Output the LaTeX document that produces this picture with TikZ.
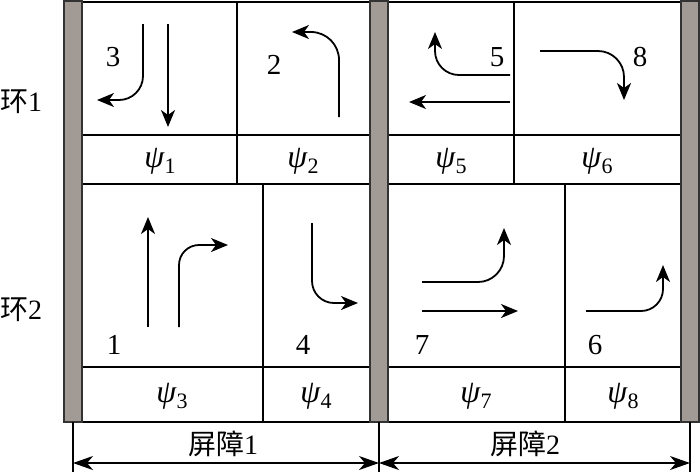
\documentclass[tikz,border=0pt]{standalone}
\usepackage{fontspec}
\setmainfont{Liberation Serif}
\newfontfamily\zhfont{Noto Sans CJK SC}
\usetikzlibrary{arrows.meta,positioning,calc}
\definecolor{barc}{HTML}{A29A95}
\newcommand\psisub[1]{\textit{ψ}\raisebox{-0.45ex}{\fontsize{11}{12}\selectfont #1}}
\tikzset{bar/.style={draw=black!80,fill=barc,line width=0.6pt},cell/.style={draw=black,line width=0.8pt},mv/.style={-{Stealth[length=8.5pt,width=7pt,inset=2.5pt]},line width=0.9pt},num/.style={font=\fontsize{14.5}{16}\selectfont,inner sep=0pt},psi/.style={font=\fontsize{16}{18}\selectfont,inner sep=0pt},lab/.style={font=\fontsize{14}{16}\selectfont,inner sep=0pt},dim/.style={{Stealth[length=10pt,width=7pt,inset=3pt]}-{Stealth[length=10pt,width=7pt,inset=3pt]},line width=0.6pt}}
\begin{document}
\begin{tikzpicture}[x=0.5pt,y=-0.5pt]
\useasboundingbox (0,0) rectangle (700,473);
\draw[cell] (82,2) rectangle (681,422);
\draw[cell] (82,184)--(681,184) (82,135)--(681,135) (82,367)--(681,367);
\draw[cell] (237,2)--(237,184) (514,2)--(514,184) (263,184)--(263,422) (565,184)--(565,422);
\draw[bar] (64,1) rectangle (82,422);
\draw[bar] (370,1) rectangle (388,422);
\draw[bar] (681,1) rectangle (699,422);
\node[lab] (ring1) at (21,102) {{\zhfont 环}1};
\node[lab] (ring2) at (21,310) {{\zhfont 环}2};
\node[psi] (p1) at (160,161) {\psisub{1}};
\node[psi] (p2) at (303,161) {\psisub{2}};
\node[psi] (p5) at (451,161) {\psisub{5}};
\node[psi] (p6) at (597,161) {\psisub{6}};
\node[psi] (p3) at (172,396) {\psisub{3}};
\node[psi] (p4) at (316,396) {\psisub{4}};
\node[psi] (p7) at (476,396) {\psisub{7}};
\node[psi] (p8) at (623,396) {\psisub{8}};
\node[num] (n3) at (113,57) {3};
\node[num] (n2) at (274,65) {2};
\node[num] (n5) at (497,57) {5};
\node[num] (n8) at (640,57) {8};
\node[num] (n1) at (114,345) {1};
\node[num] (n4) at (303,345) {4};
\node[num] (n7) at (422,345) {7};
\node[num] (n6) at (595,345) {6};
\draw[mv] (168,24)--(168,127);
\draw[mv,rounded corners=12pt] (143,24)|-(97,100);
\draw[mv,rounded corners=14pt] (339,117)|-(292,32);
\draw[mv,rounded corners=12pt] (510,75)-|(435,32);
\draw[mv] (510,102)--(409,102);
\draw[mv,rounded corners=13pt] (540,51)-|(624,100);
\draw[mv] (148,327)--(148,217);
\draw[mv,rounded corners=10pt] (179,327)|-(228,245);
\draw[mv,rounded corners=11pt] (312,223)|-(358,303);
\draw[mv,rounded corners=13pt] (422,282)-|(504,228);
\draw[mv] (422,311)--(518,311);
\draw[mv,rounded corners=11pt] (586,311)-|(663,265);
\coordinate (d0) at (73,463);
\coordinate (d1) at (379,463);
\coordinate (d2) at (690,463);
\draw[line width=0.6pt] (73,422)--(73,472) (379,422)--(379,472) (690,422)--(690,472);
\draw[dim] (d0)--(d1);
\draw[dim] (d1)--(d2);
\node[lab] (s1) at (223,444) {{\zhfont 屏障}1};
\node[lab] (s2) at (525,444) {{\zhfont 屏障}2};
\end{tikzpicture}
\end{document}
